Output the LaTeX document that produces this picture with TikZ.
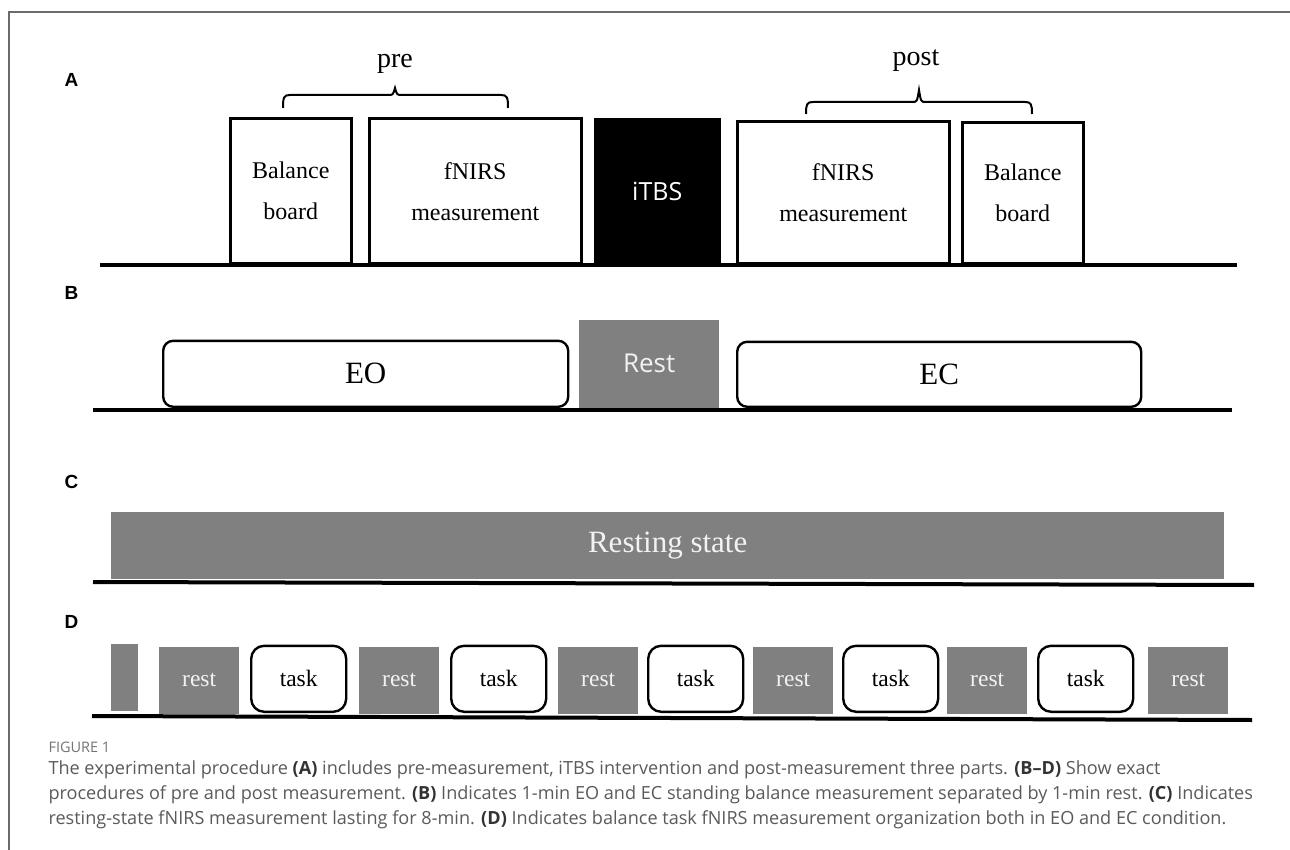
\documentclass[tikz,border=0pt]{standalone}
\usepackage{fontspec}
\setmainfont{Liberation Serif}
\setsansfont{Open Sans}
\newfontfamily\panelfont{Liberation Sans}

\definecolor{boxgray}{HTML}{808080}
\definecolor{boxtext}{HTML}{F2F2F2}
\definecolor{framegray}{HTML}{6B6B6B}
\definecolor{capgray}{HTML}{5A5A5A}
\definecolor{capdark}{HTML}{333333}

\newcommand{\capref}[1]{{\bfseries\color{capdark}#1}}

\tikzset{
	panel/.style={anchor=base west,font=\panelfont\bfseries\fontsize{19}{19}\selectfont},
	axisline/.style={line width=4pt},
	stage/.style={draw,line width=2.5pt,fill=white,inner sep=0pt,anchor=south west,align=center,font=\fontsize{24}{41}\selectfont},
	roundstage/.style={draw,line width=2.4pt,fill=white,rounded corners=10pt,inner sep=0pt,anchor=south west},
	graystage/.style={fill=boxgray,text=boxtext,inner sep=0pt,anchor=south west},
	brace/.style={line width=2pt},
	caption/.style={anchor=base west,text=capgray,font=\sffamily\fontsize{18.1}{25}\selectfont},
}

\begin{document}
\begin{tikzpicture}[x=1pt,y=-1pt]
	\useasboundingbox (0,0) rectangle (1290,850);
	% frame round the figure
	\draw [framegray,line width=1.5pt] (9,850) -- (9,12) -- (1290,12);

	% (A) pre -- iTBS -- post
	\node [panel] (labA) at (61,87) {A};
	\draw [axisline] (100,265) -- (1237,265);
	\node [stage,minimum width=121,minimum height=145] (boardpre) at (229,265) {Balance\\board};
	\node [stage,minimum width=212,minimum height=145] (fnirspre) at (368,265) {fNIRS\\measurement};
	\node [stage,fill=black,text=white,font=\sffamily\fontsize{25}{25}\selectfont,minimum width=124,minimum height=144] (itbs) at (594,265) {iTBS};
	\node [stage,minimum width=212,minimum height=142] (fnirspost) at (736,265) {fNIRS\\measurement};
	\node [stage,minimum width=121,minimum height=141] (boardpost) at (961,265) {Balance\\board};

	\draw [brace] (283,108) .. controls (283,97) and (284,95) .. (290,95) -- (388,95)
		.. controls (393,95) .. (395,88) .. controls (397,95) .. (402,95) -- (501,95)
		.. controls (507,95) and (508,97) .. (508,108);
	\node [anchor=base,font=\fontsize{28}{28}\selectfont] (pre) at (395,68) {pre};

	\draw [brace] (806,114) .. controls (806,104) and (807,102) .. (813,102) -- (912,102)
		.. controls (917,102) .. (919,90) .. controls (921,102) .. (926,102) -- (1025,102)
		.. controls (1031,102) and (1032,104) .. (1032,114);
	\node [anchor=base,font=\fontsize{28}{28}\selectfont] (post) at (916,66) {post};

	% (B) EO -- rest -- EC
	\node [panel] (labB) at (61,300) {B};
	\draw [axisline] (93,410) -- (1232,410);
	\node [roundstage,minimum width=405,minimum height=66,font=\fontsize{31}{31}\selectfont] (eo) at (162,408) {EO};
	\node [graystage,minimum width=140,minimum height=88,font=\sffamily\fontsize{26}{26}\selectfont] (restB) at (579,408) {Rest};
	\node [roundstage,minimum width=404,minimum height=65,font=\fontsize{31}{31}\selectfont] (ec) at (736,408) {EC};

	% (C) resting state
	\node [panel] (labC) at (61,488) {C};
	\node [graystage,minimum width=1113,minimum height=67,font=\fontsize{31}{31}\selectfont] (resting) at (111,579) {Resting state};
	\draw [axisline] (93,582) -- (1254,585);

	% (D) task blocks
	\node [panel] (labD) at (61,628) {D};
	\draw [axisline] (92,716) -- (1252,720);
	\node [graystage,minimum width=27,minimum height=67] (lead) at (111,711) {};
	\foreach \x [count=\i] in {159,359,558,753,947,1148}
		\node [graystage,minimum width=80,minimum height=67,font=\fontsize{23.5}{23.5}\selectfont] (rest\i) at (\x,714) {rest};
	\foreach \x [count=\i] in {250,450,647,842,1037}
		\node [roundstage,rounded corners=13pt,minimum width=95,minimum height=66,font=\fontsize{23.5}{23.5}\selectfont] (task\i) at (\x,713) {task};

	% caption
	\node [anchor=base west,text=capgray!85!white,font=\sffamily\fontsize{14.5}{14.5}\selectfont] (fig) at (45,752) {FIGURE 1};
	\node [caption] (cap1) at (45,774) {The experimental procedure \capref{(A)} includes pre-measurement, iTBS intervention and post-measurement three parts. \capref{(B–D)} Show exact};
	\node [caption] (cap2) at (45,799) {procedures of pre and post measurement. \capref{(B)} Indicates 1-min EO and EC standing balance measurement separated by 1-min rest. \capref{(C)} Indicates};
	\node [caption] (cap3) at (45,824) {resting-state fNIRS measurement lasting for 8-min. \capref{(D)} Indicates balance task fNIRS measurement organization both in EO and EC condition.};
\end{tikzpicture}
\end{document}
